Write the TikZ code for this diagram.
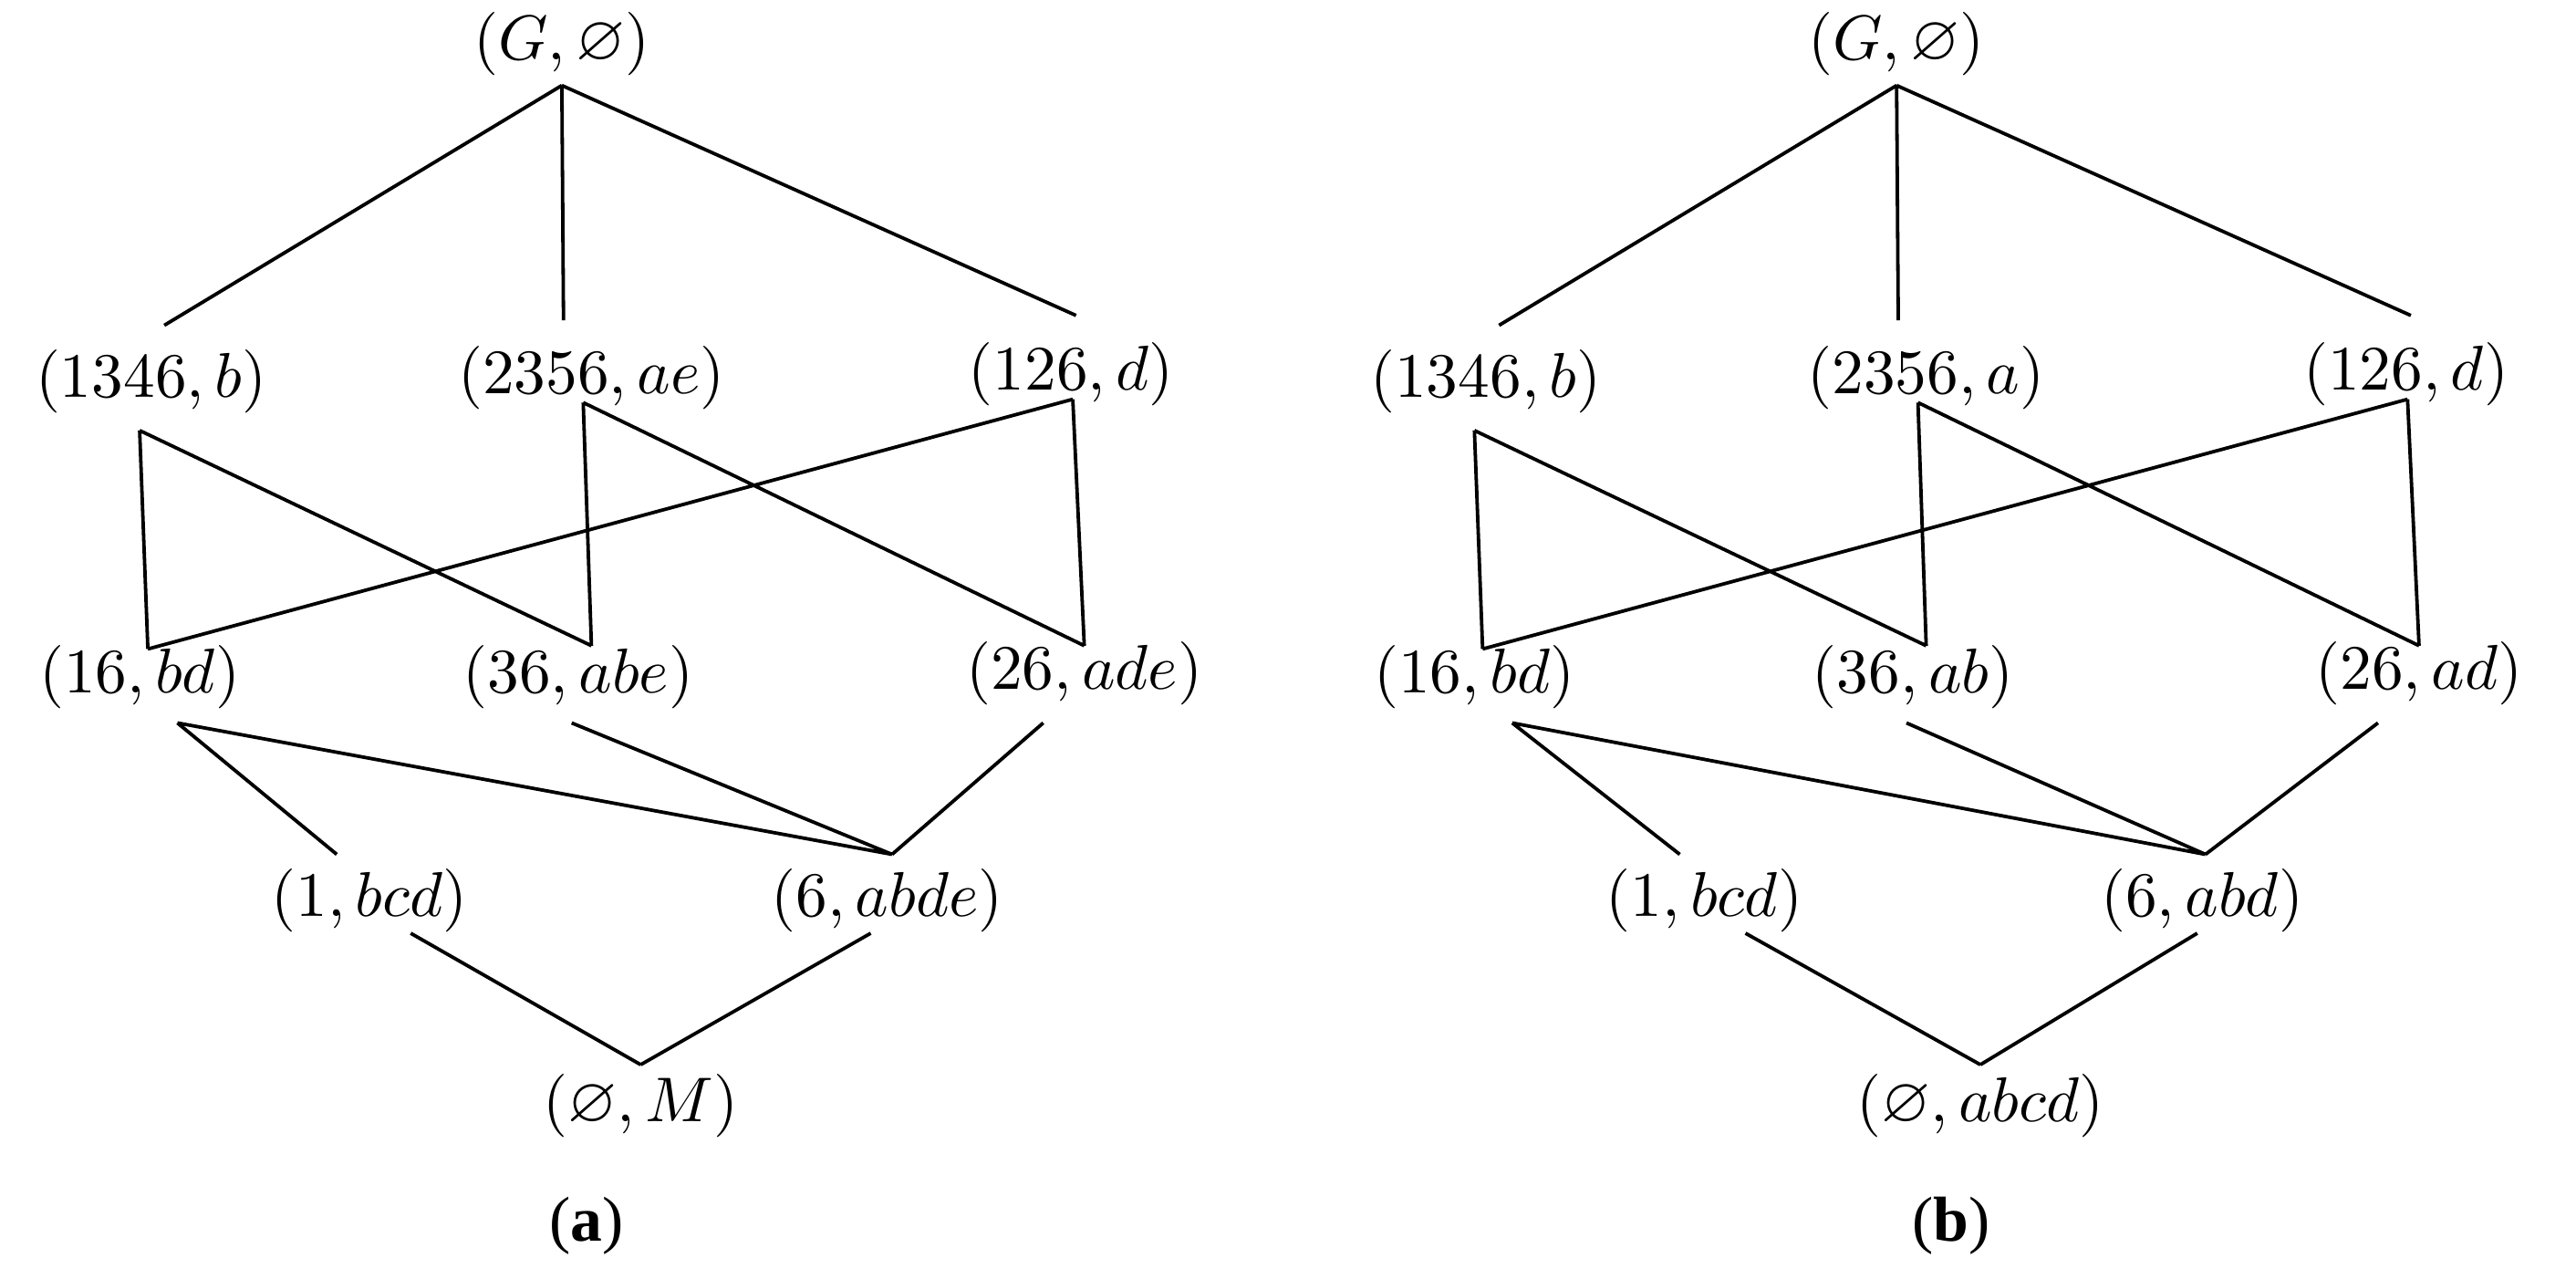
\documentclass[tikz,border=0pt]{standalone}
\usepackage{amssymb}
\usepackage{fontspec}
\setmainfont{Liberation Serif}
\begin{document}
\begin{tikzpicture}[x=0.01cm,y=-0.01cm,lbl/.style={font=\fontsize{11}{13}\selectfont,inner sep=0pt},line width=0.6pt]
\useasboundingbox (0,0) rectangle (1568,778);
\begin{scope}
 \node[lbl] (G) at (342,27) {$(G,\varnothing)$};
 \node[lbl] (A) at (92,232) {$(1346,b)$};
 \node[lbl] (B) at (360,230) {$(2356,ae)$};
 \node[lbl] (C) at (652,228) {$(126,d)$};
 \node[lbl] (D) at (85,412) {$(16,bd)$};
 \node[lbl] (E) at (352,412) {$(36,abe)$};
 \node[lbl] (F) at (660,410) {$(26,ade)$};
 \node[lbl] (H) at (225,548) {$(1,bcd)$};
 \node[lbl] (I) at (540,548) {$(6,abde)$};
 \node[lbl] (J) at (390,673) {$(\varnothing,M)$};
 \node[lbl] (K) at (357,746) {(\textbf{a})};
 \coordinate (g) at (342,52);
 \coordinate (a1) at (100,198); \coordinate (b1) at (343,195); \coordinate (c1) at (655,192);
 \coordinate (a2) at (85,262); \coordinate (b2) at (355,245); \coordinate (c2) at (653,243);
 \coordinate (d1) at (90,395); \coordinate (e1) at (360,393); \coordinate (f1) at (660,393);
 \coordinate (d2) at (108,440); \coordinate (e2) at (348,440); \coordinate (f2) at (635,440);
 \coordinate (i1) at (543,520); \coordinate (h1) at (205,520);
 \coordinate (h2) at (250,568); \coordinate (i2) at (530,568); \coordinate (j1) at (390,648);
 \draw (g)--(a1) (g)--(b1) (g)--(c1);
 \draw (a2)--(d1) (a2)--(e1) (b2)--(e1) (b2)--(f1) (c2)--(d1) (c2)--(f1);
 \draw (d2)--(h1) (d2)--(i1) (e2)--(i1) (f2)--(i1);
 \draw (h2)--(j1) (i2)--(j1);
\end{scope}
\begin{scope}[xshift=8.12cm]
 \node[lbl] (G') at (342,27) {$(G,\varnothing)$};
 \node[lbl] (A') at (92,232) {$(1346,b)$};
 \node[lbl] (B') at (360,230) {$(2356,a)$};
 \node[lbl] (C') at (652,228) {$(126,d)$};
 \node[lbl] (D') at (85,412) {$(16,bd)$};
 \node[lbl] (E') at (352,412) {$(36,ab)$};
 \node[lbl] (F') at (660,410) {$(26,ad)$};
 \node[lbl] (H') at (225,548) {$(1,bcd)$};
 \node[lbl] (I') at (528,548) {$(6,abd)$};
 \node[lbl] (J') at (393,673) {$(\varnothing,abcd)$};
 \node[lbl] (K') at (375,746) {(\textbf{b})};
 \coordinate (g') at (342,52);
 \coordinate (a1') at (100,198); \coordinate (b1') at (343,195); \coordinate (c1') at (655,192);
 \coordinate (a2') at (85,262); \coordinate (b2') at (355,245); \coordinate (c2') at (653,243);
 \coordinate (d1') at (90,395); \coordinate (e1') at (360,393); \coordinate (f1') at (660,393);
 \coordinate (d2') at (108,440); \coordinate (e2') at (348,440); \coordinate (f2') at (635,440);
 \coordinate (i1') at (530,520); \coordinate (h1') at (210,520);
 \coordinate (h2') at (250,568); \coordinate (i2') at (525,568); \coordinate (j1') at (393,648);
 \draw (g')--(a1') (g')--(b1') (g')--(c1');
 \draw (a2')--(d1') (a2')--(e1') (b2')--(e1') (b2')--(f1') (c2')--(d1') (c2')--(f1');
 \draw (d2')--(h1') (d2')--(i1') (e2')--(i1') (f2')--(i1');
 \draw (h2')--(j1') (i2')--(j1');
\end{scope}
\end{tikzpicture}
\end{document}
